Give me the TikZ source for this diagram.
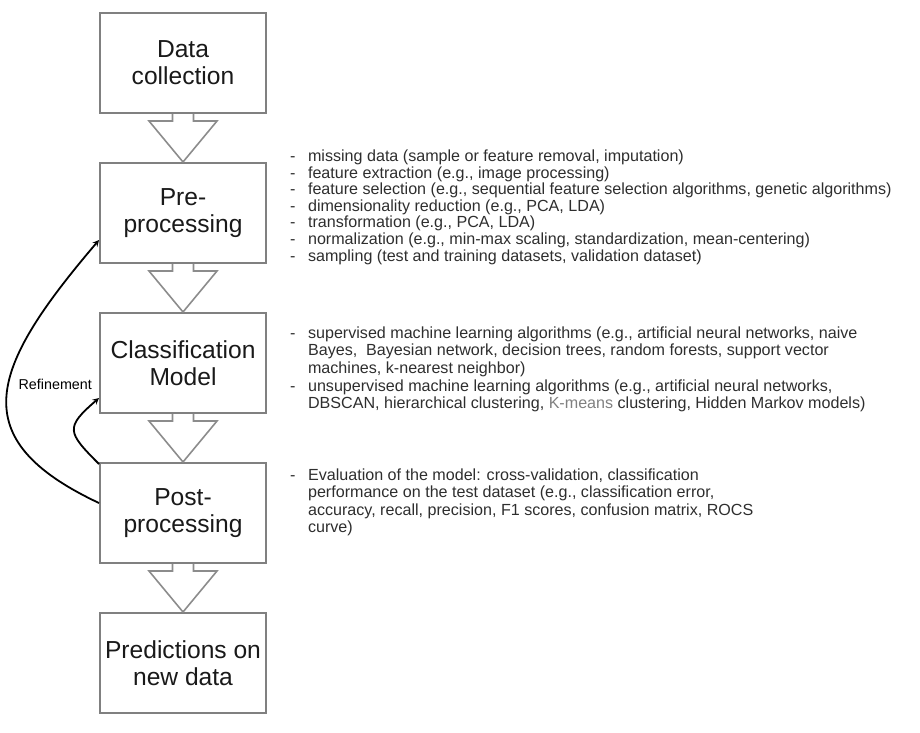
\documentclass[tikz,border=0pt]{standalone}
\usepackage{fontspec}
\setmainfont{Liberation Sans}
\usepackage{xcolor}
\usetikzlibrary{positioning}

\begin{document}
\begin{tikzpicture}[x=1pt, y=-1pt, >=stealth, node distance=48pt,
    stage/.style={draw=black!50, line width=2pt, minimum width=166pt,
        minimum height=100pt, align=center, text=black!90,
        font=\fontsize{24.6}{27}\selectfont},
    blockarrow/.style={draw=black!45, line width=1.6pt, line join=miter},
    refine/.style={->, line width=1.8pt},
    notes/.style={inner sep=0pt, text=black!82,
        font=\fontsize{16.1}{16.3}\selectfont}]
    \useasboundingbox (0,0) rectangle (920,732);

        \node [stage] (data) at (183,63) {Data\\collection};
        \node [stage, below=of data] (pre) {Pre-\\processing};
        \node [stage, below=of pre] (cls) {Classification\\Model};
        \node [stage, below=of cls] (post) {Post-\\processing};
        \node [stage, below=of post] (pred) {Predictions on\\new data};

        % hollow arrows between the stages
        \foreach \a/\b in {data/pre, pre/cls, cls/post, post/pred}
            \draw [blockarrow] (\a.south) ++(-10.5,0) -- ++(0,7) -- ++(-23.5,0)
                -- (\b.north) -- ++(34,-41) -- ++(-23.5,0) -- ++(0,-7);

        \node [notes, right=23pt of pre, yshift=5pt] (prenotes) {%
            \begin{tabular}{@{}l@{\hspace{12.5pt}}l@{}}
            - & missing data (sample or feature removal, imputation)\\
            - & feature extraction (e.g., image processing)\\
            - & feature selection (e.g., sequential feature selection algorithms, genetic algorithms)\\
            - & dimensionality reduction (e.g., PCA, LDA)\\
            - & transformation (e.g., PCA, LDA)\\
            - & normalization (e.g., min-max scaling, standardization, mean-centering)\\
            - & sampling (test and training datasets, validation dataset)
            \end{tabular}};
        \node [notes, font=\fontsize{16.1}{17.6}\selectfont,
            right=23pt of cls, yshift=-7pt] (clsnotes) {%
            \begin{tabular}{@{}l@{\hspace{12.5pt}}l@{}}
            - & supervised machine learning algorithms (e.g., artificial neural networks, naive\\
              & Bayes,\ \ Bayesian network, decision trees, random forests, support vector\\
              & machines, k-nearest neighbor)\\
            - & unsupervised machine learning algorithms (e.g., artificial neural networks,\\
              & DBSCAN, hierarchical clustering, \textcolor{black!50}{K-means} clustering, Hidden Markov models)
            \end{tabular}};
        \node [notes, font=\fontsize{16.1}{17.6}\selectfont,
            right=23pt of post, yshift=10pt] (postnotes) {%
            \begin{tabular}{@{}l@{\hspace{12.5pt}}l@{}}
            - & Evaluation of the model: cross-validation, classification\\
              & performance on the test dataset (e.g., classification error,\\
              & accuracy, recall, precision, F1 scores, confusion matrix, ROCS\\
              & curve)
            \end{tabular}};

        % refinement loops
        \node [left=7pt of cls.west, yshift=-21pt, inner sep=0pt,
            font=\fontsize{14.3}{16}\selectfont] (refinelabel) {Refinement};
        \draw [refine] ([yshift=10pt]post.west) .. controls +(-136,-64) and +(-110,129)
            .. ([yshift=-27pt]pre.west);
        \draw [refine] ([yshift=-2pt]post.north west) .. controls +(-32,-32) and +(-34,29.5)
            .. ([yshift=-35pt]cls.west);
\end{tikzpicture}
\end{document}
